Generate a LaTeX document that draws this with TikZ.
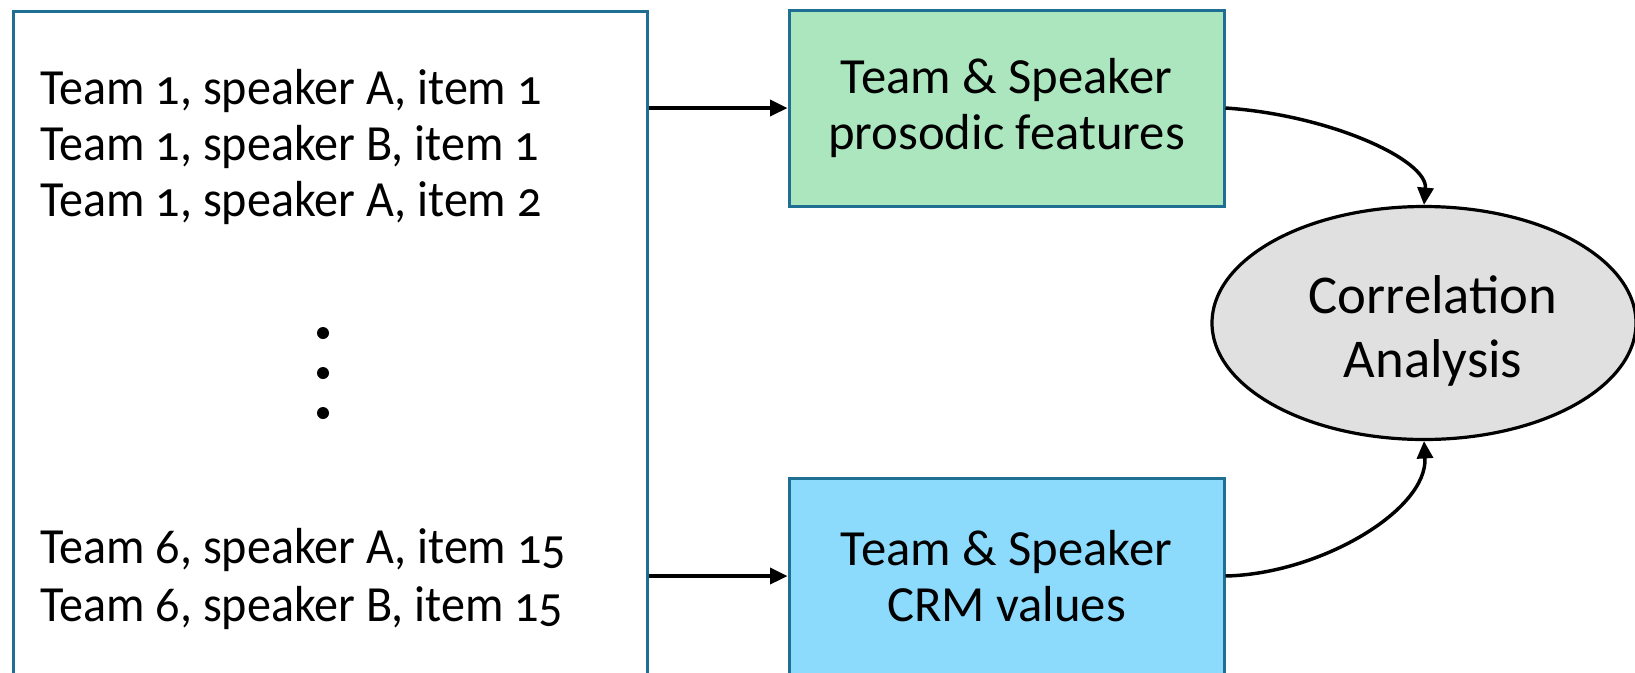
\documentclass[tikz,border=0pt]{standalone}
\usepackage{fontspec}
\setmainfont{Carlito}[Numbers=OldStyle]
\newfontfamily\listfont{Carlito}[Numbers=OldStyle,FakeStretch=0.95]
\usetikzlibrary{shapes.geometric,arrows.meta}
\definecolor{edgeblue}{HTML}{1F6F93}
\definecolor{fillgreen}{HTML}{ABE6BF}
\definecolor{fillblue}{HTML}{8CDBFD}
\definecolor{fillgray}{HTML}{E0E0E0}
\begin{document}
\begin{tikzpicture}[x=0.75pt,y=-0.75pt,
  listtext/.style={anchor=base west, inner sep=0pt, font=\listfont\fontsize{38}{42}\selectfont},
  featbox/.style={draw=edgeblue, line width=2.25pt, minimum width=326.25pt, minimum height=147pt,
    align=center, inner sep=0pt, font=\fontsize{38}{42}\selectfont},
  srcbox/.style={draw=edgeblue, line width=2.25pt, anchor=north west, minimum width=475.5pt, minimum height=525pt, inner sep=0pt},
  ellbox/.style={ellipse, draw=black, fill=fillgray, line width=2.4pt, minimum width=318pt, minimum height=174.75pt,
    inner sep=0pt},
  elltext/.style={align=center, inner sep=0pt, font=\fontsize{41}{48}\selectfont},
  flow/.style={-{Triangle[length=13pt,width=12pt]}, line width=2.6pt}]
\useasboundingbox (0,0) rectangle (1635,672);
\clip (0,0) rectangle (1635,672);
\node[srcbox] (src) at (12,10) {};
\node[listtext] (l1) at (40,104) {Team 1, speaker A, item 1};
\node[listtext] (l2) at (40,160) {Team 1, speaker B, item 1};
\node[listtext] (l3) at (40,216) {Team 1, speaker A, item 2};
\node[listtext] (l4) at (40,563) {Team 6, speaker A, item 15};
\node[listtext] (l5) at (40,621) {Team 6, speaker B, item 15};
\fill (323,333) circle (4.5pt);
\fill (323,373) circle (4.5pt);
\fill (323,413) circle (4.5pt);
\node[featbox, fill=fillgreen] (green) at (1006.5,108) {Team \& Speaker\\prosodic features};
\node[featbox, fill=fillblue] (blue) at (1006.5,576) {Team \& Speaker\\CRM values};
\node[ellbox] (ell) at (1424,323) {};
\node[elltext] (elltxt) at (1433,331) {Correlation\\Analysis};
\draw[flow] (src.east |- green.west) -- (green.west);
\draw[flow] (src.east |- blue.west) -- (blue.west);
\draw[flow] (green.east) .. controls (1330,115) and (1428,160) .. (ell.north);
\draw[flow] (blue.east) .. controls (1320,574) and (1428,510) .. (ell.south);
\end{tikzpicture}
\end{document}
